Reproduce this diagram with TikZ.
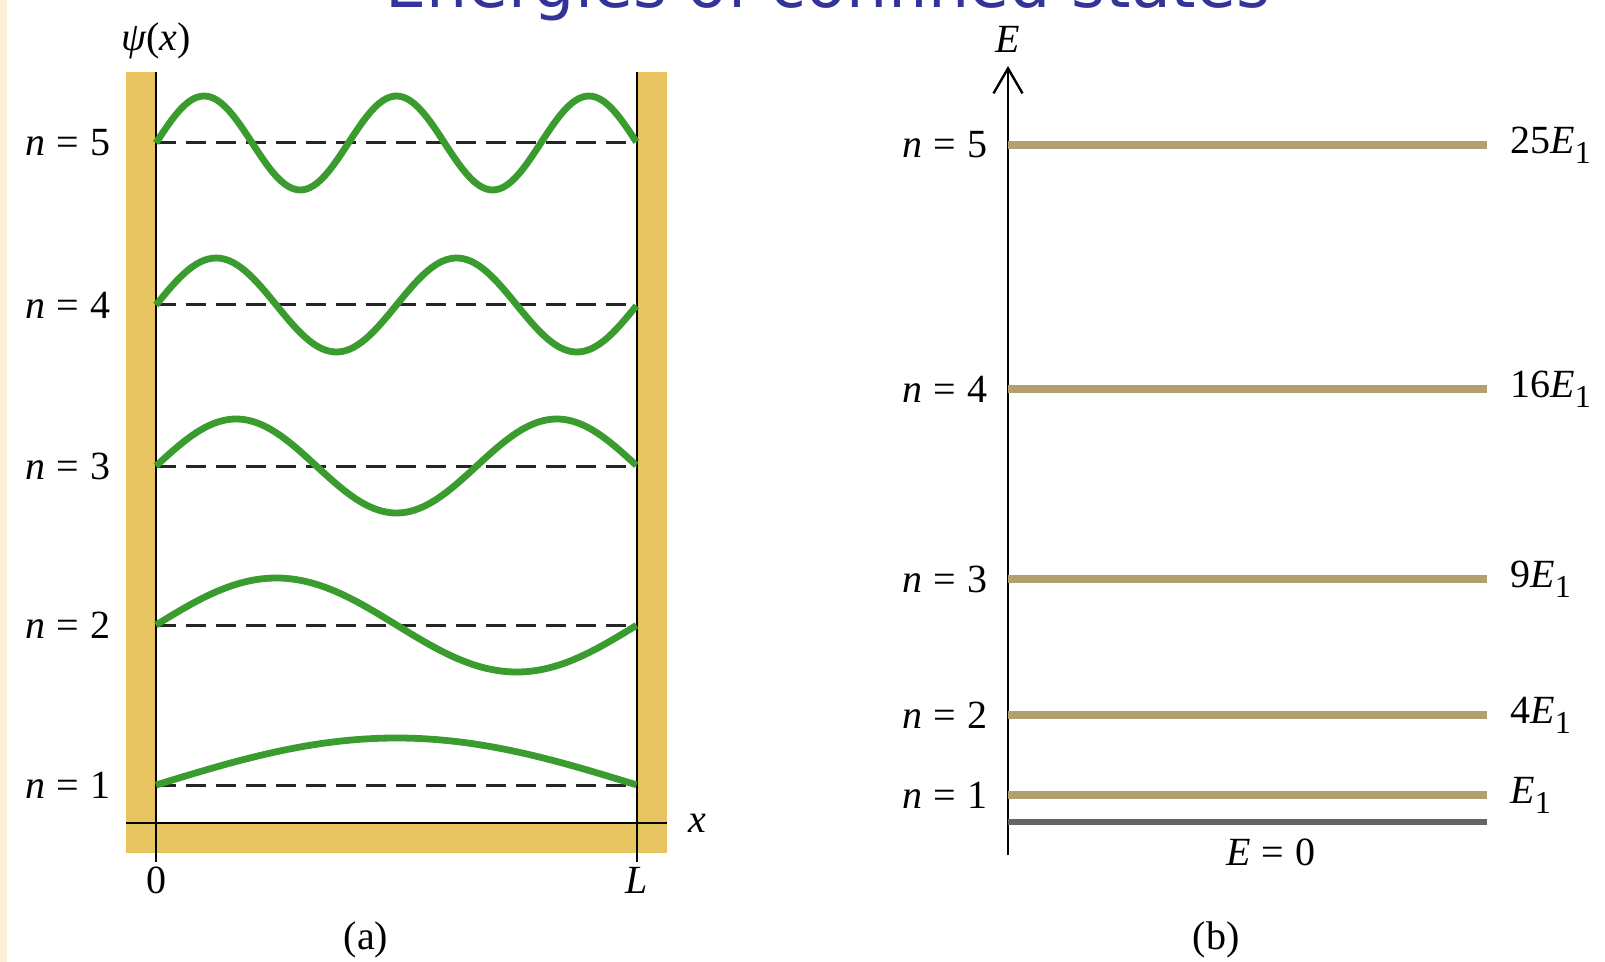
\documentclass[tikz,border=0pt]{standalone}
\usepackage{fontspec}
\setmainfont{Liberation Serif}
\newfontfamily\titlefont{DejaVu Sans}
\usetikzlibrary{arrows.meta}
\definecolor{wallgold}{RGB}{232,196,96}
\definecolor{wavegreen}{RGB}{58,156,46}
\definecolor{leveltan}{RGB}{178,160,112}
\definecolor{zerogray}{RGB}{100,100,100}
\definecolor{titleblue}{RGB}{51,51,153}
\definecolor{slidecream}{RGB}{251,239,213}
\newcommand{\nlab}[1]{\textit{n}\hspace{0.28em}=\hspace{0.28em}#1}
\newcommand{\Eone}{\textit{E}\raisebox{-0.55ex}{\fontsize{16}{16}\selectfont 1}}
\tikzset{
  lab/.style={font=\fontsize{20}{22}\selectfont,inner sep=0pt},
  wall/.style={fill=wallgold},
  wave/.style={wavegreen,line width=3.4pt},
  nodeline/.style={black!85,line width=1.5pt,dash pattern=on 10pt off 5pt},
  level/.style={leveltan,line width=3.8pt},
  zerolevel/.style={zerogray,line width=3.2pt},
}
\begin{document}
\begin{tikzpicture}[x=0.5pt,y=-0.5pt]
\useasboundingbox (0,0) rectangle (1605,962);
\fill[slidecream] (0,0) rectangle (7,962);
\node[font=\titlefont\fontsize{32.5}{36}\selectfont,text=titleblue,anchor=base,inner sep=0pt] (title) at (828,8) {Energies of confined states};
% (a) box with walls
\fill[wall] (126,72) rectangle (156,853);
\fill[wall] (637,72) rectangle (667,853);
\fill[wall] (126,823) rectangle (667,853);
\coordinate (O) at (156,823);
\coordinate (Lx) at (637,823);
\draw[line width=1pt] (156,72) -- (156,862);
\draw[line width=1pt] (637,72) -- (637,862);
\draw[line width=1pt] (126,823) -- (667,823);
\node[lab] (psi) at (156,41) {\textit{ψ}(\textit{x})};
\node[lab,anchor=west] (xlab) at (688,823) {\textit{x}};
\node[lab] (zero) at (156,880) {0};
\node[lab] (Llab) at (637,880) {\textit{L}};
\node[lab] (capa) at (366,940) {(a)};
\foreach \k/\y in {1/785,2/625,3/466,4/305,5/143}{
  \draw[nodeline] (156,\y) -- (637,\y);
  \draw[wave] plot[domain=0:1,samples=120] ({156+481*\x},{\y-47*sin(\k*180*\x)});
  \node[lab,anchor=east] (na\k) at (111,\y) {\nlab{\k}};
}
% (b) energy levels
\coordinate (Ebot) at (1008,855);
\coordinate (Etop) at (1008,66);
\draw[line width=1.2pt,-{Straight Barb[length=12.5pt,width=14.5pt,line width=1.2pt]}] (Ebot) -- (Etop);
\node[lab] (Elab) at (1008,39) {\textit{E}};
\draw[zerolevel] (1008,822) -- (1487,822);
\node[lab] (Ezero) at (1271,852) {\textit{E}\hspace{0.28em}=\hspace{0.28em}0};
\foreach \k/\y/\t in {1/795/,2/715/4,3/579/9,4/389/16,5/145/25}{
  \draw[level] (1008,\y) -- (1487,\y);
  \node[lab,anchor=east] (nb\k) at (988,\y) {\nlab{\k}};
  \node[lab,anchor=west] (En\k) at (1510,\y) {\t\Eone};
}
\node[lab] (capb) at (1216,940) {(b)};
\end{tikzpicture}
\end{document}
